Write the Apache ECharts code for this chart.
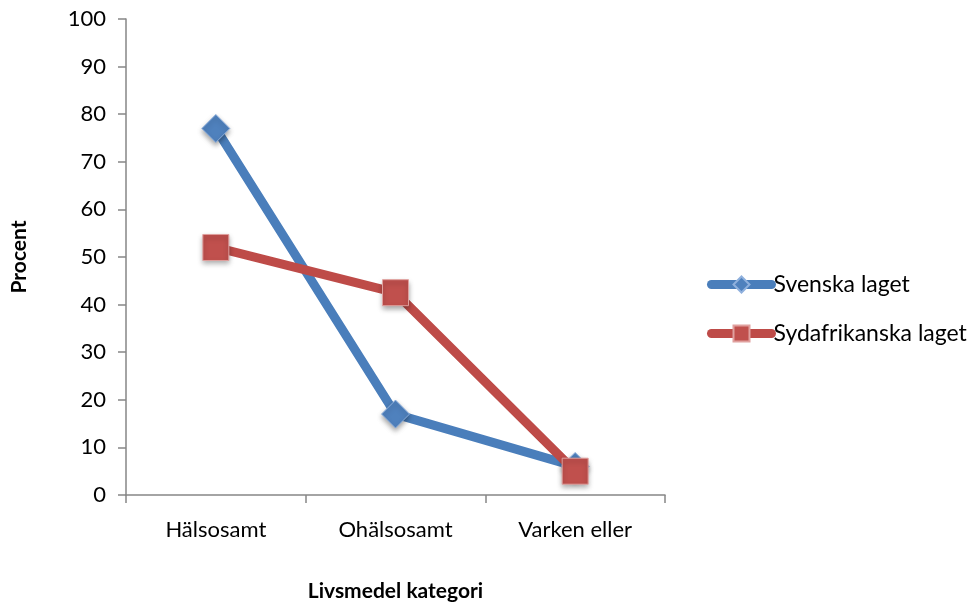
<!DOCTYPE html>
<html>
<head>
<meta charset="utf-8">
<script src="https://cdn.jsdelivr.net/npm/echarts@6/dist/echarts.min.js"></script>
<style>html,body{margin:0;padding:0;background:#fff}#c{width:978px;height:603px}</style>
</head>
<body>
<div id="c"></div>
<script>
const categories = ['Hälsosamt', 'Ohälsosamt', 'Varken eller'];
const svenska = [77, 17, 6];
const sydafrikanska = [52, 42.5, 5];
const yTicks = [0, 10, 20, 30, 40, 50, 60, 70, 80, 90, 100];

const font = 'Lato, "Open Sans", sans-serif';
const chart = echarts.init(document.getElementById('c'));
chart.setOption({
  animation: false,
  backgroundColor: '#fff',
  grid: { left: 126, right: 313, top: 19, bottom: 108, containLabel: false, outerBoundsMode: 'none' },
  legend: {
    orient: 'vertical', left: 702, top: 268, itemGap: 26,
    itemWidth: 60, itemHeight: 20,
    textStyle: { fontFamily: font, fontSize: 23, color: '#000', padding: [0,0,0,-3] },
    data: [
      { name: 'Svenska laget', lineStyle: { width: 9, cap: 'round' } },
      { name: 'Sydafrikanska laget', lineStyle: { width: 9, cap: 'round' } }
    ]
  },
  xAxis: {
    type: 'category', data: categories, boundaryGap: true,
    name: 'Livsmedel kategori', nameLocation: 'middle', nameGap: 86,
    nameTextStyle: { fontFamily: font, fontSize: 21, fontWeight: 'bold', color: '#000' },
    axisLine: { lineStyle: { color: '#868686', width: 1.5 } },
    axisTick: { show: true, length: 8, lineStyle: { color: '#868686', width: 1.5 } },
    axisLabel: { fontFamily: font, fontSize: 22, color: '#000', margin: 24 }
  },
  yAxis: {
    type: 'value', min: 0, max: 100, interval: 10,
    name: 'Procent', nameLocation: 'middle', nameGap: 96, nameRotate: 90,
    nameTextStyle: { fontFamily: font, fontSize: 21, fontWeight: 'bold', color: '#000' },
    splitLine: { show: false },
    axisLine: { show: true, lineStyle: { color: '#868686', width: 1.5 } },
    axisTick: { show: true, length: 8, lineStyle: { color: '#868686', width: 1.5 } },
    axisLabel: { fontFamily: font, fontSize: 22, color: '#000', margin: 20,
      formatter: v => yTicks.includes(v) ? String(v) : '' }
  },
  series: [
    {
      name: 'Svenska laget', type: 'line', data: svenska,
      symbol: 'diamond', symbolSize: 28,
      lineStyle: { color: '#4a7ebb', width: 9 },
      itemStyle: { color: '#4f81bd', borderColor: '#8fb0dd', borderWidth: 1,
        shadowColor: 'rgba(0,0,0,0.35)', shadowBlur: 5, shadowOffsetY: 3 },
      z: 2
    },
    {
      name: 'Sydafrikanska laget', type: 'line', data: sydafrikanska,
      symbol: 'rect', symbolSize: 26,
      lineStyle: { color: '#be4b48', width: 9 },
      itemStyle: { color: '#c0504d', borderColor: '#e0a09e', borderWidth: 1,
        shadowColor: 'rgba(0,0,0,0.35)', shadowBlur: 5, shadowOffsetY: 3 },
      z: 3
    }
  ]
});
</script>
</body>
</html>
